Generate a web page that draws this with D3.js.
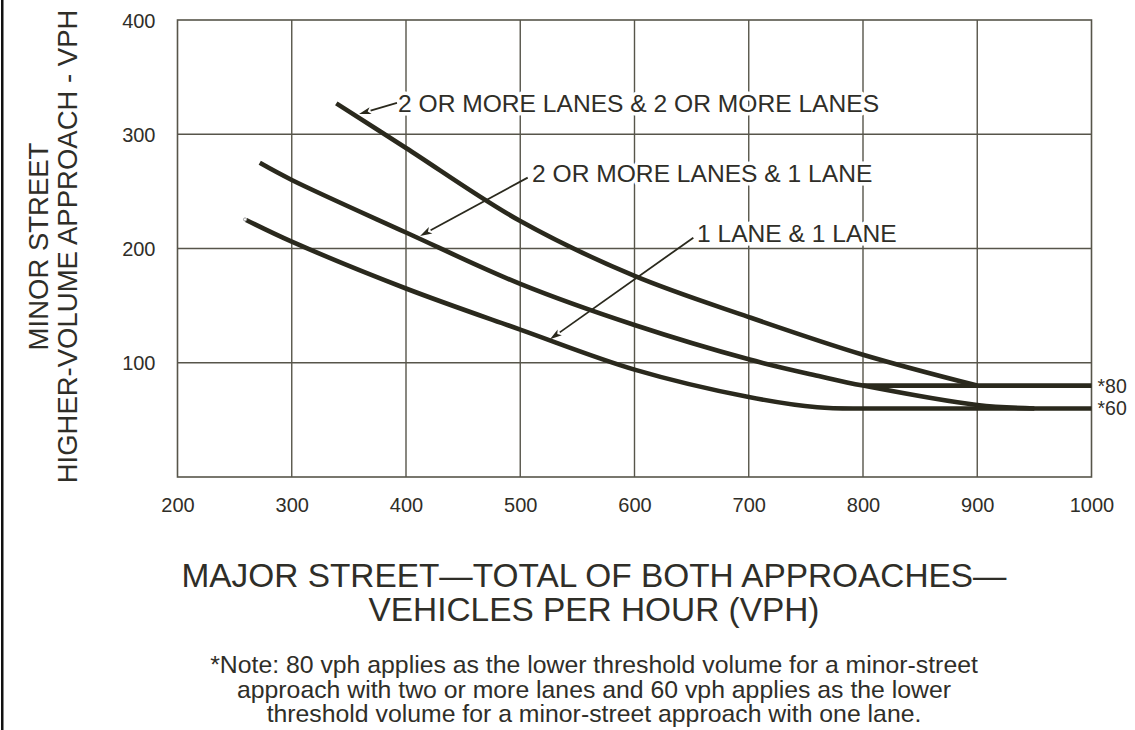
<!DOCTYPE html>
<html>
<head>
<meta charset="utf-8">
<script src="https://cdn.jsdelivr.net/npm/d3@7"></script>
<style>
  html, body { margin: 0; padding: 0; background: #fff; }
  svg { display: block; }
  text { font-family: "Liberation Sans", Arial, Helvetica, sans-serif; fill: #2f2e28; }
</style>
</head>
<body>
<svg id="chart" width="1135" height="730"></svg>
<script>
// ---------------- data ----------------
const xTicks = [200, 300, 400, 500, 600, 700, 800, 900, 1000];
const yTicks = [100, 200, 300, 400];
const xDomain = [200, 1000];
const yDomain = [0, 400];

// Curves: [major street vph, minor street vph]
const curve2plus2plus = [[339, 327], [400, 288], [500, 224], [600, 176], [700, 140], [800, 107], [900, 80]];
const curve2plus1 = [[272, 275], [300, 260], [400, 214], [500, 169], [600, 133], [700, 103], [763, 88], [800, 80], [900, 63], [950, 60]];
const curve1and1 = [[260, 225], [300, 206], [400, 165], [500, 129], [600, 94], [700, 70], [760, 61], [800, 60]];

// Lower thresholds
const thresholdValues = [80, 60];
const thresholdStart = [800, 800];
const thresholdEnd = [1000, 1000];
const thresholdLabels = ["*80", "*60"];

// Curve labels with leader arrows (data units)
const labelTexts = ["2 OR MORE LANES & 2 OR MORE LANES", "2 OR MORE LANES & 1 LANE", "1 LANE & 1 LANE"];
const labelAt = [[393, 319.5], [510.3, 258.2], [654.7, 205.7]];
const arrowTail = [[392.1, 327.4], [506.5, 262], [651.5, 209.5]];
const arrowTip = [[358.9, 317.7], [412.3, 211], [526, 120.5]];

const yTitleLines = ["MINOR STREET", "HIGHER-VOLUME APPROACH - VPH"];
const xTitleLines = ["MAJOR STREET\u2014TOTAL OF BOTH APPROACHES\u2014", "VEHICLES PER HOUR (VPH)"];
const noteLines = [
  "*Note: 80 vph applies as the lower threshold volume for a minor-street",
  "approach with two or more lanes and 60 vph applies as the lower",
  "threshold volume for a minor-street approach with one lane."
];

// ---------------- drawing ----------------
const svg = d3.select("#chart");
const ink = "#2a291d";
const gridCol = "#57554a";

const x = d3.scaleLinear().domain(xDomain).range([177.5, 1091.5]);
const y = d3.scaleLinear().domain(yDomain).range([477, 20]);

// left frame line
svg.append("rect").attr("x", 1).attr("y", 0).attr("width", 2.5).attr("height", 730).attr("fill", "#111");

// grid
const g = svg.append("g");
g.selectAll("line.v").data(xTicks.slice(1, -1)).join("line")
  .attr("x1", d => x(d)).attr("x2", d => x(d))
  .attr("y1", y(400)).attr("y2", y(0))
  .attr("stroke", gridCol).attr("stroke-width", 1.4);
g.selectAll("line.h").data(yTicks.slice(0, -1)).join("line")
  .attr("x1", x(200)).attr("x2", x(1000))
  .attr("y1", d => y(d)).attr("y2", d => y(d))
  .attr("stroke", gridCol).attr("stroke-width", 1.4);
g.append("rect")
  .attr("x", x(200)).attr("y", y(400))
  .attr("width", x(1000) - x(200)).attr("height", y(0) - y(400))
  .attr("fill", "none").attr("stroke", gridCol).attr("stroke-width", 1.6);

// axes (labels only)
const yAxis = d3.axisLeft(y).tickValues(yTicks).tickSize(0).tickPadding(22).tickFormat(d3.format("d"));
const ya = svg.append("g").attr("transform", `translate(${x(200)},0)`).call(yAxis);
ya.select(".domain").remove();
ya.selectAll("text").style("font-size", "20px").attr("dy", "0.36em").attr("fill", "#2f2e28");

const xAxis = d3.axisBottom(x).tickValues(xTicks).tickSize(0).tickPadding(21).tickFormat(d3.format("d"));
const xa = svg.append("g").attr("transform", `translate(0,${y(0)})`).call(xAxis);
xa.select(".domain").remove();
xa.selectAll("text").style("font-size", "20px").attr("fill", "#2f2e28");

// curves
const line = d3.line().x(d => x(d[0])).y(d => y(d[1])).curve(d3.curveCatmullRom.alpha(0.5));
const curves = [curve2plus2plus, curve2plus1, curve1and1];
svg.append("g").selectAll("path").data(curves).join("path")
  .attr("d", line)
  .attr("fill", "none").attr("stroke", ink).attr("stroke-width", 4.6)
  .attr("stroke-linecap", "butt").attr("stroke-linejoin", "round");

// threshold lines
svg.append("g").selectAll("line").data(thresholdValues).join("line")
  .attr("x1", (d, i) => x(thresholdStart[i])).attr("x2", (d, i) => x(thresholdEnd[i]))
  .attr("y1", d => y(d)).attr("y2", d => y(d))
  .attr("stroke", ink).attr("stroke-width", 4.6);
svg.append("g").selectAll("text").data(thresholdValues).join("text")
  .attr("x", (d, i) => x(thresholdEnd[i]) + 6)
  .attr("y", d => y(d) + 7)
  .style("font-size", "19.5px")
  .text((d, i) => thresholdLabels[i]);

// small open end at 1 lane curve start
svg.append("circle")
  .attr("cx", x(curve1and1[0][0]) - 1).attr("cy", y(curve1and1[0][1]) - 0.5)
  .attr("r", 1.6).attr("fill", "#fff").attr("stroke", "#888").attr("stroke-width", 0.8);

// labels
const lab = svg.append("g");
lab.selectAll("text").data(labelTexts).join("text")
  .attr("x", (d, i) => x(labelAt[i][0]))
  .attr("y", (d, i) => y(labelAt[i][1]))
  .style("font-size", "24.6px")
  .attr("stroke", "#fff").attr("stroke-width", 7).attr("stroke-linejoin", "round")
  .attr("paint-order", "stroke")
  .text(d => d);

// arrows
const arr = svg.append("g");
labelTexts.forEach((t, i) => {
  const x0 = x(arrowTail[i][0]), y0 = y(arrowTail[i][1]);
  const x1 = x(arrowTip[i][0]), y1 = y(arrowTip[i][1]);
  const ang = Math.atan2(y1 - y0, x1 - x0);
  const L = 12, W = 3.6;
  const bx = x1 - L * Math.cos(ang), by = y1 - L * Math.sin(ang);
  arr.append("line").attr("x1", x0).attr("y1", y0).attr("x2", bx).attr("y2", by)
    .attr("stroke", ink).attr("stroke-width", 1.8);
  const px = -Math.sin(ang) * W, py = Math.cos(ang) * W;
  arr.append("path")
    .attr("d", `M${x1},${y1}L${bx + px},${by + py}L${bx + L * 0.25 * Math.cos(ang)},${by + L * 0.25 * Math.sin(ang)}L${bx - px},${by - py}Z`)
    .attr("fill", ink);
});

// y title
const yt = svg.append("g").attr("transform", `translate(0,${(y(0) + y(400)) / 2 - 2}) rotate(-90)`);
yt.selectAll("text").data(yTitleLines).join("text")
  .attr("x", 0).attr("y", (d, i) => 48 + i * 29)
  .attr("text-anchor", "middle")
  .style("font-size", "27.5px")
  .text(d => d);

// x title
svg.append("g").selectAll("text").data(xTitleLines).join("text")
  .attr("x", 594).attr("y", (d, i) => 587 + i * 34)
  .attr("text-anchor", "middle")
  .style("font-size", "33.4px")
  .text(d => d);

// note
svg.append("g").selectAll("text").data(noteLines).join("text")
  .attr("x", 594).attr("y", (d, i) => 673 + i * 24.5)
  .attr("text-anchor", "middle")
  .style("font-size", "24.8px")
  .text(d => d);
</script>
</body>
</html>
